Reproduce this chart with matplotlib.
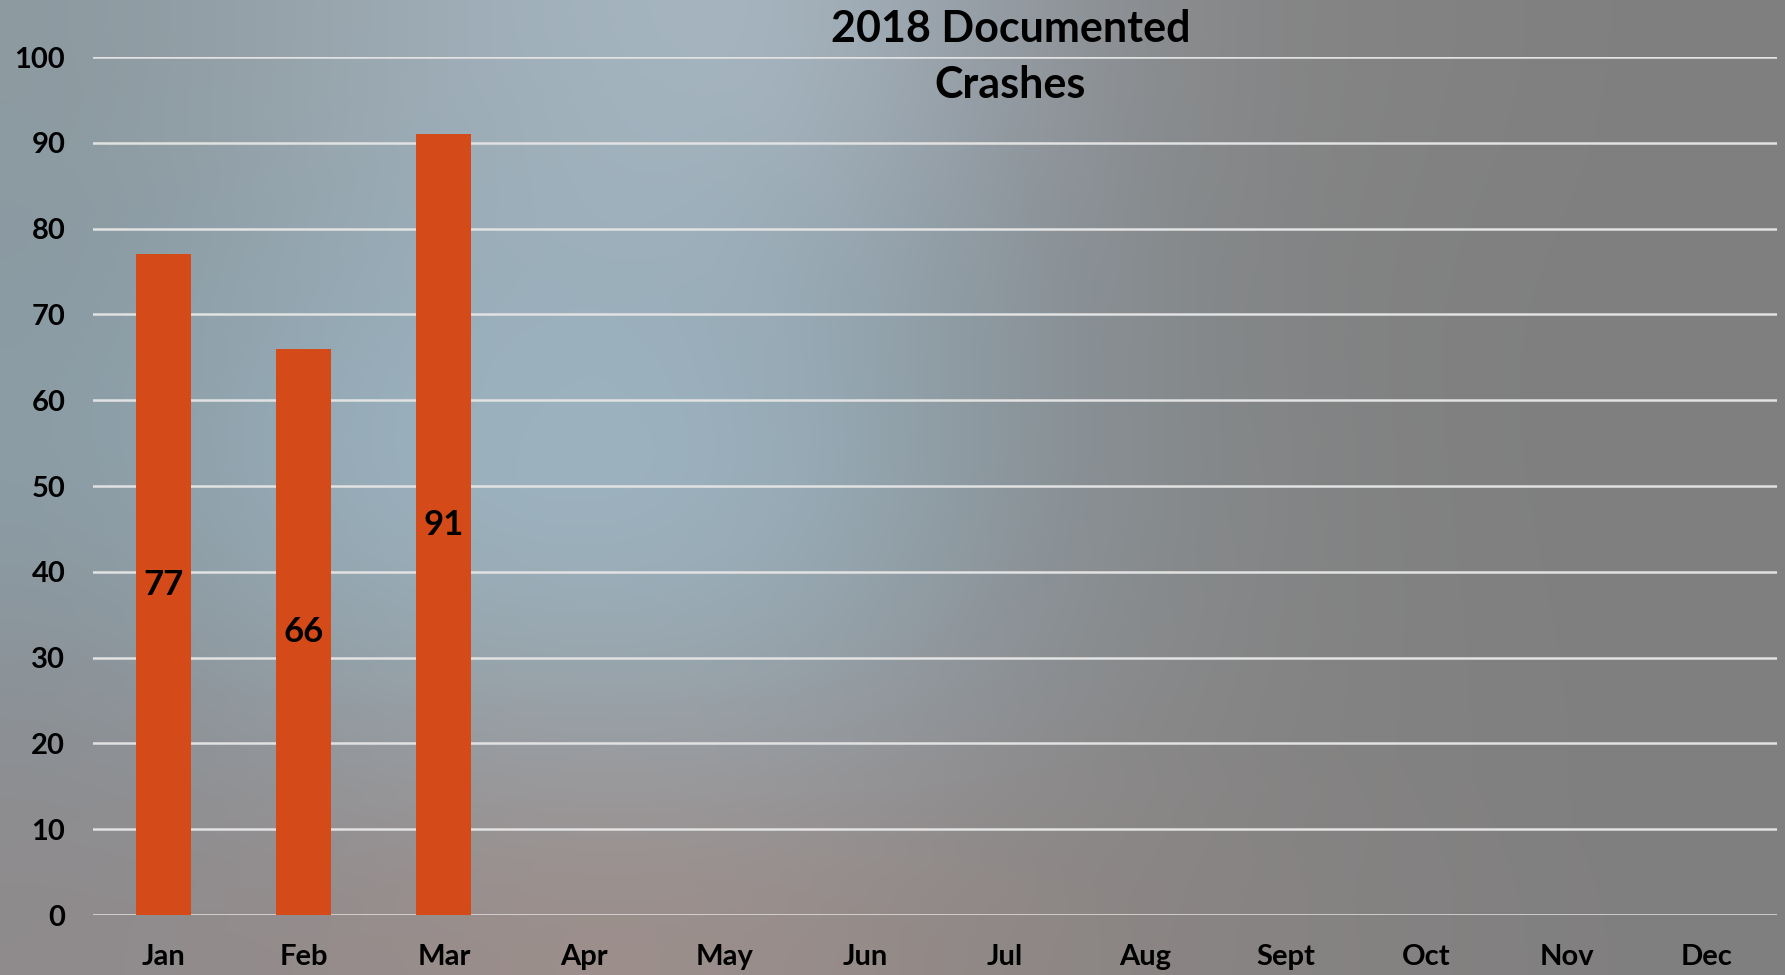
import numpy as np
import matplotlib
matplotlib.use("Agg")
import matplotlib.pyplot as plt
from matplotlib.colors import to_rgb

months = ["Jan", "Feb", "Mar", "Apr", "May", "Jun", "Jul", "Aug", "Sept", "Oct", "Nov", "Dec"]
reported_months = ["Jan", "Feb", "Mar"]
crashes = [77, 66, 91]
title_lines = ["2018 Documented", "Crashes"]
y_ticks = [0, 10, 20, 30, 40, 50, 60, 70, 80, 90, 100]

FONT = "Lato"
plt.rcParams["font.family"] = [FONT, "DejaVu Sans"]

fig = plt.figure(figsize=(17.85, 9.75), dpi=100)

# blurred-photo style background
bg_rows = [
    ["#8d9aa0", "#9aa6ae", "#a2b2bd", "#a9b8c3", "#939aa2", "#868686", "#828282", "#7f7f7f"],
    ["#8a9aa2", "#95a9b4", "#9ab0bc", "#97aab6", "#8a959c", "#838586", "#808080", "#7f7f7f"],
    ["#8c9ea7", "#98b0bd", "#9fb8c5", "#9bb2bf", "#8a969c", "#858788", "#808080", "#7f7f7f"],
    ["#8a9197", "#93a0a8", "#98a5ad", "#96a4ad", "#8d9196", "#858585", "#818181", "#7f7f7f"],
    ["#8f8b8c", "#958b8a", "#9d8e8a", "#9a8d8a", "#8f8785", "#888483", "#838181", "#807f7f"],
]
bg = np.array([[to_rgb(c) for c in row] for row in bg_rows])
bax = fig.add_axes([0, 0, 1, 1], zorder=-10)
bax.imshow(bg, aspect="auto", interpolation="bicubic", extent=[0, 1, 0, 1])
bax.set_axis_off()

ax = fig.add_axes([0.0521, 0.0615, 0.9434, 0.88])
ax.patch.set_alpha(0)
x = np.arange(len(months))
vals = [crashes[reported_months.index(m)] if m in reported_months else np.nan for m in months]
bars = ax.bar(x, vals, width=0.39, color="#d44a18", zorder=3)
for xi, v in zip(x, vals):
    if not np.isnan(v):
        ax.text(xi, v / 2, f"{int(v)}", ha="center", va="center",
                fontsize=25, fontweight="bold", color="black", zorder=4)

ax.set_xlim(-0.5, len(months) - 0.5)
ax.set_ylim(0, 100)
ax.set_yticks(y_ticks)
ax.set_yticklabels([str(t) for t in y_ticks])
ax.set_xticks(x)
ax.set_xticklabels(months)
ax.yaxis.grid(True, color="#e2e2e2", linewidth=1.8, zorder=1)
ax.set_axisbelow(True)
for s in ax.spines.values():
    s.set_visible(False)
ax.tick_params(axis="both", length=0, labelsize=21, labelcolor="black")
ax.tick_params(axis="y", pad=20)
ax.tick_params(axis="x", pad=21)
for lbl in ax.get_xticklabels() + ax.get_yticklabels():
    lbl.set_fontweight("bold")

fig.text(0.566, 0.9705, title_lines[0], ha="center", va="center", fontsize=31,
         fontweight="bold", color="black")
fig.text(0.566, 0.9125, title_lines[1], ha="center", va="center", fontsize=31,
         fontweight="bold", color="black")

fig.savefig("out.png", dpi=100)
